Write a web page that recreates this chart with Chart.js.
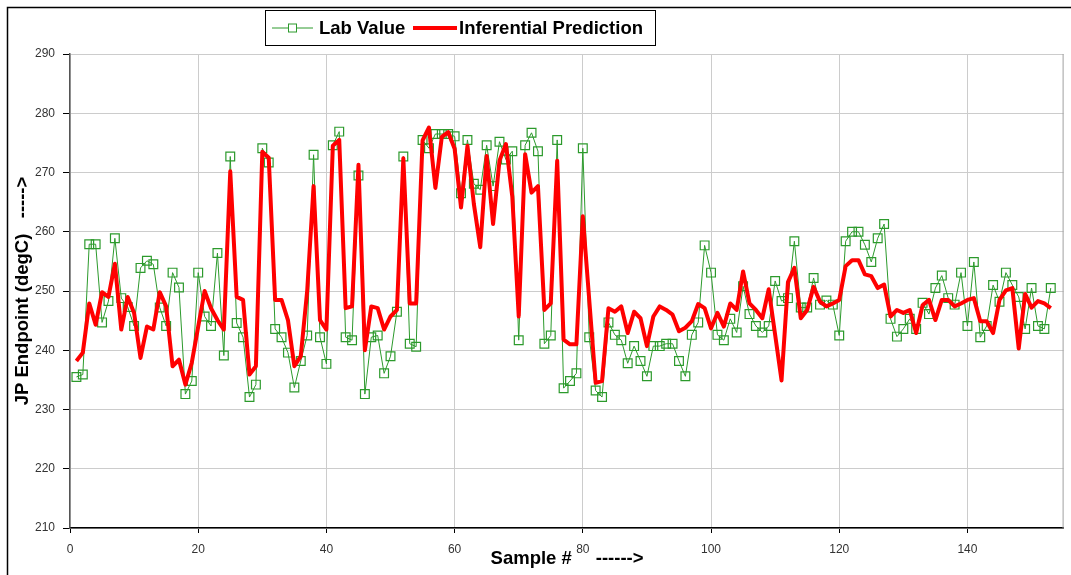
<!DOCTYPE html>
<html>
<head>
<meta charset="utf-8">
<script src="https://cdn.jsdelivr.net/npm/chart.js@4.4.1/dist/chart.umd.min.js"></script>
<style>
  html, body { margin: 0; padding: 0; background: #fff; }
  #wrap { width: 1071px; height: 575px; }
</style>
</head>
<body>
<div id="wrap"><canvas id="jpChart" width="1071" height="575"></canvas></div>
<script>
// lab samples, one per sample # starting at 1
const labValues = [
    235.5, 235.9, 257.9, 257.9, 244.7, 248.3, 258.9, 248.8, 247.3, 244.1,
    253.9, 255.1, 254.5, 247.2, 244.1, 253.1, 250.6, 232.6, 234.8, 253.1,
    245.7, 244.1, 256.4, 239.1, 272.7, 244.6, 242.2, 232.1, 234.2, 274.1,
    271.7, 243.6, 242.2, 239.6, 233.7, 238.2, 242.5, 273.0, 242.2, 237.7,
    274.6, 276.9, 242.2, 241.7, 269.5, 232.6, 242.2, 242.5, 236.1, 239.0,
    246.5, 272.7, 241.1, 240.6, 275.5, 274.1, 276.5, 276.5, 276.5, 276.1,
    266.5, 275.5, 268.1, 267.1, 274.6, 267.7, 275.2, 272.2, 273.6, 241.7,
    274.6, 276.7, 273.6, 241.1, 242.5, 275.5, 233.6, 234.8, 236.1, 274.1,
    242.2, 233.2, 232.1, 244.7, 242.6, 241.7, 237.8, 240.7, 238.2, 235.6,
    240.7, 240.7, 241.1, 241.1, 238.2, 235.6, 242.6, 244.7, 257.7, 253.1,
    242.6, 241.7, 245.3, 243.0, 250.8, 246.1, 244.1, 243.0, 244.1, 251.7,
    248.3, 248.8, 258.4, 247.2, 247.2, 252.2, 247.7, 248.4, 247.7, 242.5,
    258.4, 260.0, 260.0, 257.8, 254.9, 258.9, 261.3, 245.3, 242.3, 243.6,
    245.3, 243.6, 248.0, 246.1, 250.5, 252.6, 248.8, 247.7, 253.1, 244.1,
    254.9, 242.2, 244.1, 251.0, 248.2, 253.1, 251.0, 249.0, 243.6, 250.5,
    244.1, 243.6, 250.5
];

// inferential model output for the same samples
const predValues = [
    238.2, 239.6, 247.9, 244.3, 249.8, 249.0, 254.6, 243.5, 249.0, 246.3,
    238.7, 244.0, 243.5, 249.8, 247.4, 237.3, 238.4, 234.2, 237.9, 244.0,
    250.0, 247.1, 245.1, 243.5, 270.2, 249.0, 248.5, 235.9, 237.3, 273.5,
    272.5, 248.5, 248.5, 245.1, 237.3, 239.0, 250.0, 267.7, 245.1, 243.5,
    274.5, 275.5, 247.1, 247.4, 271.3, 240.0, 247.4, 247.1, 243.5, 245.7,
    246.8, 272.4, 247.9, 247.9, 275.4, 277.6, 267.4, 276.0, 276.8, 274.0,
    264.1, 274.5, 264.7, 257.4, 272.8, 261.3, 272.0, 274.8, 265.9, 245.7,
    273.1, 266.6, 267.7, 246.8, 247.9, 272.0, 241.8, 241.0, 241.0, 262.6,
    248.5, 234.5, 234.8, 247.1, 246.5, 247.4, 242.9, 246.5, 245.4, 240.7,
    245.7, 247.4, 246.8, 246.0, 243.2, 243.8, 244.9, 247.8, 247.1, 243.7,
    246.3, 244.0, 247.9, 246.8, 253.3, 247.9, 246.8, 245.4, 250.3, 242.6,
    234.9, 251.5, 253.9, 245.4, 246.8, 250.7, 248.2, 247.4, 247.9, 248.5,
    254.2, 255.2, 255.2, 252.8, 252.5, 250.5, 251.1, 245.7, 246.8, 246.3,
    246.8, 242.9, 247.6, 248.5, 245.1, 248.5, 248.5, 247.4, 247.9, 248.5,
    248.8, 244.9, 244.9, 242.9, 248.5, 250.1, 250.5, 240.3, 249.5, 247.2,
    248.3, 247.9, 247.1
];

const xRange = [0, 155];
const yRange = [210, 290];
const xStep = 20;
const yStep = 10;

const labColor = '#2c9a2c';
const predColor = '#ff0000';
const tickFont = { family: "'Liberation Sans', Arial, sans-serif", size: 12 };
const boldFont = "bold 18.5px 'Liberation Sans', Arial, sans-serif";

const toPoints = (values) => values.map((v, i) => ({ x: i + 1, y: v }));

// outer frame, plot outline, axis titles and the boxed legend
const decorPlugin = {
    id: 'decor',
    beforeDraw(chart) {
        const ctx = chart.ctx;
        ctx.save();
        ctx.strokeStyle = '#000';
        ctx.lineWidth = 1.5;
        ctx.beginPath();
        ctx.moveTo(7.5, chart.height + 2);
        ctx.lineTo(7.5, 7.5);
        ctx.lineTo(chart.width + 2, 7.5);
        ctx.stroke();
        ctx.restore();
    },
    beforeDatasetsDraw(chart) {
        const { ctx, chartArea: a } = chart;
        ctx.save();
        ctx.strokeStyle = '#a0a0a0';
        ctx.lineWidth = 1;
        ctx.beginPath();
        ctx.moveTo(a.right - 0.5, a.top);
        ctx.lineTo(a.right - 0.5, a.bottom);
        ctx.stroke();
        ctx.restore();
    },
    afterDraw(chart) {
        const { ctx, chartArea: a } = chart;
        ctx.save();
        ctx.fillStyle = '#000';
        ctx.font = boldFont;
        ctx.textBaseline = 'middle';

        // y title
        ctx.save();
        ctx.translate(23, (a.top + a.bottom) / 2);
        ctx.rotate(-Math.PI / 2);
        ctx.textAlign = 'center';
        ctx.fillText('JP Endpoint (degC)   ----->', 0, 0);
        ctx.restore();

        // x title, the arrow sits right of the "80" tick label
        const mid = (a.left + a.right) / 2;
        ctx.textAlign = 'right';
        ctx.fillText('Sample #', mid + 5, a.bottom + 31);
        ctx.textAlign = 'left';
        ctx.fillText('------>', mid + 29, a.bottom + 31);

        // legend
        const box = { x: 265.5, y: 10.5, w: 390, h: 35 };
        ctx.fillStyle = '#fff';
        ctx.fillRect(box.x, box.y, box.w, box.h);
        ctx.strokeStyle = '#000';
        ctx.lineWidth = 1;
        ctx.strokeRect(box.x, box.y, box.w, box.h);
        const cy = box.y + box.h / 2;
        const ds = chart.data.datasets;

        ctx.strokeStyle = ds[0].borderColor;
        ctx.lineWidth = 1;
        ctx.beginPath();
        ctx.moveTo(272, cy);
        ctx.lineTo(313, cy);
        ctx.stroke();
        ctx.fillStyle = '#fff';
        ctx.fillRect(288.5, cy - 4, 8, 8);
        ctx.strokeRect(288.5, cy - 4, 8, 8);

        ctx.strokeStyle = ds[1].borderColor;
        ctx.lineWidth = 4;
        ctx.beginPath();
        ctx.moveTo(413, cy);
        ctx.lineTo(457, cy);
        ctx.stroke();

        ctx.fillStyle = '#000';
        ctx.textAlign = 'left';
        ctx.fillText(ds[0].label, 319, cy + 1);
        ctx.fillText(ds[1].label, 459, cy + 1);
        ctx.restore();
    },
};

new Chart(document.getElementById('jpChart'), {
    type: 'line',
    data: {
        datasets: [
            {
                label: 'Lab Value',
                data: toPoints(labValues),
                borderColor: labColor,
                borderWidth: 1,
                pointStyle: 'rect',
                pointRadius: 6.2,
                pointBorderColor: labColor,
                pointBackgroundColor: 'rgba(0,0,0,0)',
                pointBorderWidth: 1.2,
                tension: 0,
                order: 1,
            },
            {
                label: 'Inferential Prediction',
                data: toPoints(predValues),
                borderColor: predColor,
                borderWidth: 4,
                pointRadius: 0,
                tension: 0,
                borderJoinStyle: 'round',
                order: 0,
            },
        ],
    },
    options: {
        responsive: false,
        animation: false,
        layout: { padding: { left: 0, right: 6, top: 54, bottom: 0 } },
        plugins: {
            legend: { display: false },
            tooltip: { enabled: false },
        },
        scales: {
            x: {
                type: 'linear',
                min: xRange[0],
                max: xRange[1],
                afterFit: (s) => { s.height = 47; },
                ticks: {
                    stepSize: xStep,
                    includeBounds: false,
                    color: '#333',
                    font: tickFont,
                    padding: 9,
                    maxRotation: 0,
                },
                grid: { color: '#cccccc', tickColor: '#000', tickLength: 5 },
                border: { color: '#000', width: 1.5 },
            },
            y: {
                min: yRange[0],
                max: yRange[1],
                afterFit: (s) => { s.width = 70; },
                ticks: {
                    stepSize: yStep,
                    color: '#333',
                    font: tickFont,
                    padding: 8,
                },
                grid: { color: '#cccccc', tickColor: '#000', tickLength: 7 },
                border: { color: '#555', width: 1.5 },
            },
        },
    },
    plugins: [decorPlugin],
});
</script>
</body>
</html>
